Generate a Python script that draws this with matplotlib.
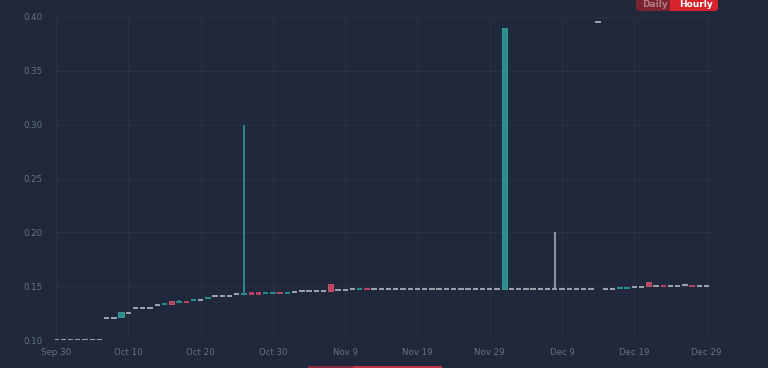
import matplotlib
matplotlib.use("Agg")
import matplotlib.pyplot as plt
from matplotlib.patches import FancyBboxPatch, Rectangle
import numpy as np

# ---- data (day offsets from Sep 30) ----
days = list(range(0, 91))
opens = ([0.100]*7 + [0.120, 0.120, 0.1211, 0.125, 0.130, 0.130, 0.130, 0.1325,
          0.1328, 0.1365, 0.1352, 0.1358, 0.1366, 0.1375, 0.1388, 0.1406, 0.1406, 0.1406,
          0.1425, 0.1428, 0.1434, 0.1434, 0.1432, 0.1432, 0.1437, 0.1433, 0.1443,
          0.1455, 0.1455, 0.1455, 0.1455, 0.1517, 0.1465, 0.1465, 0.1474, 0.1472, 0.1476]
         + [0.1474]*18 + [0.1474] + [0.1474]*6 + [0.1474] + [0.1474]*5 + [0.3950]
         + [0.1474, 0.1474, 0.1477, 0.1484, 0.1488, 0.1488, 0.1536, 0.1505, 0.1507,
            0.1505, 0.1505, 0.1510, 0.1507, 0.1505, 0.1505])
closes = ([0.100]*7 + [0.120, 0.120, 0.1257, 0.125, 0.130, 0.130, 0.130, 0.1325,
           0.1335, 0.1338, 0.1358, 0.1352, 0.1372, 0.1375, 0.1394, 0.1406, 0.1406, 0.1406,
           0.1425, 0.1434, 0.1430, 0.1430, 0.1437, 0.1437, 0.1433, 0.1437, 0.1443,
           0.1455, 0.1455, 0.1455, 0.1455, 0.1458, 0.1465, 0.1465, 0.1474, 0.1476, 0.1472]
          + [0.1474]*18 + [0.3900] + [0.1474]*6 + [0.1474] + [0.1474]*5 + [0.3950]
          + [0.1474, 0.1474, 0.1483, 0.1490, 0.1488, 0.1488, 0.1502, 0.1505, 0.1503,
             0.1505, 0.1505, 0.1510, 0.1503, 0.1505, 0.1505])
highs = {17: 0.1372, 26: 0.300, 69: 0.200}

xtick_days = [0, 10, 20, 30, 40, 50, 60, 70, 80, 90]
xtick_labels = ["Sep 30", "Oct 10", "Oct 20", "Oct 30", "Nov 9", "Nov 19",
                "Nov 29", "Dec 9", "Dec 19", "Dec 29"]
yticks = [0.10, 0.15, 0.20, 0.25, 0.30, 0.35, 0.40]

BG = "#1f293b"
GRID = "#263145"
UP = "#2b8c8c"
DOWN = "#b8425f"
FLAT = "#9aa1ab"

fig = plt.figure(figsize=(7.68, 3.68), dpi=100, facecolor=BG)
ax = fig.add_axes([55/768, 28/368, (712-55)/768, (340-17)/368], facecolor=BG)

ax.set_xlim(-0.15, 90.75)
ax.set_ylim(0.10, 0.40)

minh = 0.0019
w = 0.74
for d, o, c in zip(days, opens, closes):
    if c > o + 1e-9:
        col, ec = UP, "#3aa3a3"
    elif c < o - 1e-9:
        col, ec = DOWN, "#cf5a77"
    else:
        col, ec = FLAT, FLAT
    lo, hi = min(o, c), max(o, c)
    if d in highs:
        ax.vlines(d, hi, highs[d], color=col, lw=1.3, zorder=2)
    h = max(hi - lo, minh)
    b = lo if hi - lo >= minh else (lo + hi) / 2 - minh / 2
    ax.bar(d, h, bottom=b, width=w, color=col, edgecolor=ec,
           linewidth=0.6 if hi - lo >= minh else 0, zorder=3)

ax.set_xticks(xtick_days)
ax.set_xticklabels(xtick_labels)
ax.set_yticks(yticks)
ax.set_yticklabels([f"{v:.2f}" for v in yticks])
ax.grid(True, color=GRID, lw=0.8)
ax.set_axisbelow(True)
for s in ax.spines.values():
    s.set_visible(False)
ax.tick_params(length=0, colors="#677184", labelsize=6.2)
ax.tick_params(axis="y", pad=9)
ax.tick_params(axis="x", pad=6)

# buttons
def px(x, y):
    return x / 768, 1 - y / 368

bx, by = px(636, 11)
fig.patches.append(FancyBboxPatch((bx, by), 40/768, 16/368,
                                  boxstyle="round,pad=0,rounding_size=0.006",
                                  transform=fig.transFigure, fc="#7a2430", ec="none"))
bx2, _ = px(674, 11)
fig.patches.append(FancyBboxPatch((bx2, by), 44/768, 16/368,
                                  boxstyle="round,pad=0,rounding_size=0.006",
                                  transform=fig.transFigure, fc="#d8222c", ec="none"))
fig.patches.append(Rectangle((bx2 - 4/768, by), 8/768, 16/368,
                             transform=fig.transFigure, fc="#d8222c", ec="none"))
fig.text(655/768, 1 - 4.5/368, "Daily", ha="center", va="center",
         color="#b07a80", fontsize=6.5, fontweight="bold")
fig.text(696/768, 1 - 4.5/368, "Hourly", ha="center", va="center",
         color="white", fontsize=6.5, fontweight="bold")

# bottom scrollbar hint
fig.patches.append(Rectangle((308/768, 0), 45/768, 2/368,
                             transform=fig.transFigure, fc="#8a2a3c", ec="none"))
fig.patches.append(Rectangle((353/768, 0), 89/768, 2/368,
                             transform=fig.transFigure, fc="#c23447", ec="none"))

fig.savefig("out.png", dpi=100, facecolor=BG)
